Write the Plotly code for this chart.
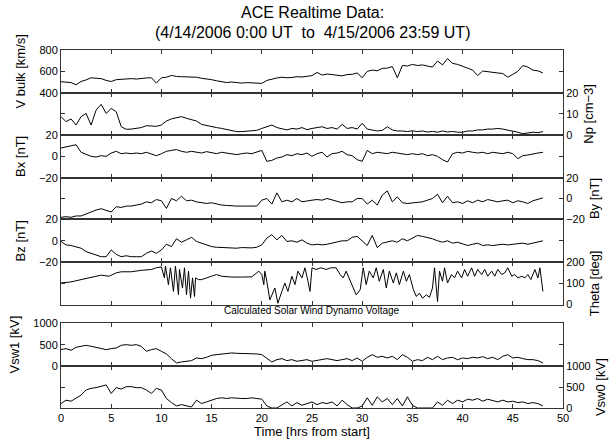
import plotly.graph_objects as go

# ---------------- data ----------------
HOURS = [0, 0.5, 1, 1.5, 2, 2.5, 3, 3.5, 4, 4.5,
         5, 5.5, 6, 6.5, 7, 7.5, 8, 8.5, 9, 9.5,
         10, 10.5, 11, 11.5, 12, 12.5, 13, 13.5, 14, 14.5,
         15, 15.5, 16, 16.5, 17, 17.5, 18, 18.5, 19, 19.5,
         20, 20.5, 21, 21.5, 22, 22.5, 23, 23.5, 24, 24.5,
         25, 25.5, 26, 26.5, 27, 27.5, 28, 28.5, 29, 29.5,
         30, 30.5, 31, 31.5, 32, 32.5, 33, 33.5, 34, 34.5,
         35, 35.5, 36, 36.5, 37, 37.5, 38, 38.5, 39, 39.5,
         40, 40.5, 41, 41.5, 42, 42.5, 43, 43.5, 44, 44.5,
         45, 45.5, 46, 46.5, 47, 47.5, 48]

V_BULK = [503, 498, 495, 475, 505, 520, 540, 535, 532, 515,
          505, 522, 525, 530, 532, 528, 535, 538, 540, 490,
          540, 545, 562, 552, 550, 548, 550, 545, 535, 530,
          522, 512, 505, 495, 500, 492, 490, 495, 492, 488,
          487, 515, 530, 538, 545, 540, 543, 550, 547, 555,
          560, 590, 565, 575, 570, 562, 558, 570, 572, 585,
          540, 600, 612, 605, 628, 630, 645, 540, 655, 650,
          665, 655, 660, 650, 640, 697, 660, 720, 675, 665,
          650, 630, 612, 560, 603, 595, 590, 585, 580, 545,
          572, 600, 655, 640, 612, 605, 585]

NP = [8.7, 6.3, 7.6, 4.7, 8.7, 10.2, 4.7, 11.8, 14.5, 10.2,
      12.6, 11.0, 3.9, 2.7, 2.8, 3.1, 3.5, 4.4, 4.4, 4.1,
      4.7, 6.6, 7.6, 8.2, 8.7, 7.9, 7.1, 6.6, 5.0, 4.4,
      3.9, 3.5, 3.1, 2.7, 2.2, 1.6, 1.6, 1.7, 1.9, 2.2,
      3.1, 3.9, 4.7, 3.5, 2.8, 2.4, 3.1, 2.8, 3.5, 2.5,
      3.1, 3.5, 3.9, 3.1, 3.5, 2.8, 5.0, 3.1, 3.5, 2.8,
      5.5, 2.8, 2.4, 1.9, 2.2, 3.9, 2.4, 1.9, 1.9, 1.6,
      2.0, 1.6, 1.9, 1.4, 1.7, 1.3, 1.9, 1.4, 1.7, 1.3,
      1.3, 1.9, 1.9, 2.4, 2.4, 2.8, 2.8, 3.1, 2.8, 2.4,
      1.9, 1.3, 0.6, 0.8, 1.3, 1.1, 1.6]

BX = [7.8, 8.8, 9.4, 10.9, 3.8, 1.6, 0.0, -0.6, 0.6, 0.0,
      3.1, 4.7, 2.5, 3.1, 2.5, 3.1, 2.5, 3.8, 2.5, 0.6,
      2.5, 4.7, 5.6, 6.3, 4.7, 3.8, 4.7, 3.8, 3.1, 4.4,
      3.8, 2.5, 3.8, 3.1, 2.5, 1.6, 2.5, 3.1, 2.5, 3.8,
      5.6, -4.7, -3.8, -1.6, -0.6, 1.6, 0.6, 2.5, 1.6, 3.1,
      0.0, 2.5, 3.8, -0.6, 2.5, 3.1, 4.7, 1.6, 0.6, -3.1,
      -4.7, 5.6, 2.5, 3.8, 3.1, 2.5, 3.8, 3.1, 2.5, 1.6,
      2.5, 1.6, 2.5, 0.6, 1.6, 0.0, -3.1, -5.3, 2.5, 3.8,
      3.1, 4.7, 3.8, 3.1, 3.8, 2.5, 3.8, 3.1, 2.5, 3.8,
      2.5, -2.2, 0.6, 1.3, 2.5, 3.1, 3.8]

BY = [-18.1, -17.5, -18.1, -16.8, -16.8, -14.9, -12.7, -11.1, -9.8, -11.1,
      -13.0, -7.9, -8.6, -7.3, -7.3, -6.3, -5.4, -3.2, -4.1, -1.0,
      -2.2, -9.5, 0.0, -2.2, 2.2, -2.2, -1.6, -3.2, -4.1, -4.8,
      -4.1, -5.4, -6.3, -6.7, -7.3, -7.3, -7.3, -7.3, -6.7, -7.3,
      -1.6, 0.0, -5.4, 5.4, -3.2, -1.6, -3.2, 0.0, -3.2, -2.2,
      -1.6, -1.0, -1.6, 0.0, -1.6, -3.2, -4.1, -3.2, -3.2, 0.0,
      0.0, -5.4, -1.6, -6.3, 3.2, 7.3, -3.2, 1.6, -4.1, -4.8,
      -4.1, -3.2, -3.2, -1.6, 0.0, 4.1, -4.1, 2.2, -4.1, -3.2,
      -4.8, -2.2, -4.1, -1.6, -3.2, -1.0, -2.2, -3.2, -2.2, -1.6,
      -4.1, -2.2, -3.2, -4.8, -2.2, -1.0, 0.6]

BZ = [-0.6, -3.8, -4.4, -5.4, -6.9, -10.1, -11.7, -13.2, -14.8, -14.8,
      -8.5, -12.6, -14.8, -13.9, -14.8, -14.8, -14.8, -11.7, -9.5, -11.7,
      -8.5, -3.2, -5.4, 1.9, -1.3, 0.9, 3.2, -0.6, -2.2, -3.8,
      -5.4, -6.0, -6.3, -6.6, -6.3, -6.9, -6.3, -6.6, -6.6, -6.0,
      -3.8, 2.5, 5.7, 0.9, 5.0, -0.6, 0.0, -1.3, 0.9, -2.2,
      -3.8, -3.2, -3.8, -3.2, -2.2, -0.6, 0.0, 0.0, 3.2, 4.1,
      0.0, -4.4, 5.0, -6.3, -2.2, -1.3, 0.0, -1.3, 1.9, 0.0,
      2.5, 5.0, 4.1, 3.2, 1.9, 0.0, -1.3, 0.0, -2.2, -1.3,
      -3.2, -4.4, -3.2, -2.2, -4.4, -3.8, -4.4, -3.8, -3.2, -3.8,
      -3.2, -2.5, -2.2, -3.2, -2.2, -1.3, 0.0]

THETA_HOURS = [0, 1, 2, 3, 4, 4.8, 5.5, 6, 7, 8, 9, 9.5,
               10, 10.3, 10.4, 10.7, 10.9, 11.2, 11.4, 11.7, 11.8, 12.1,
               12.3, 12.5, 12.7, 12.9, 13.1, 13.3, 13.4, 13.7, 14, 15,
               15.5, 16, 17, 18, 19, 19.7, 20, 20.2, 20.3, 20.5,
               20.8, 21.3, 21.6, 22, 22.3, 22.6, 23, 23.3, 23.6, 24,
               24.3, 24.6, 24.8, 25, 25.4, 25.9, 26.4, 26.9, 27.4, 27.8,
               28.1, 28.4, 28.8, 29.1, 29.4, 29.8, 30.1, 30.4, 30.7, 31.1,
               31.4, 31.7, 32.1, 32.4, 32.7, 33.1, 33.4, 33.7, 34.1, 34.4,
               34.7, 35.1, 35.4, 35.7, 36.0, 36.4, 36.7, 37.0, 37.2, 37.5,
               37.7, 38.0, 38.2, 38.5, 38.9, 39.2, 39.5, 39.9, 40.2, 40.5,
               40.9, 41.2, 41.5, 41.9, 42.2, 42.5, 42.9, 43.2, 43.5, 43.9,
               44.2, 44.5, 44.9, 45.2, 45.5, 45.9, 46.2, 46.5, 46.8, 47.2,
               47.5, 47.7, 48.0]

THETA = [102, 107, 118, 130, 139, 134, 150, 155, 155, 162, 166, 174,
         178, 126, 182, 94, 174, 62, 182, 46, 166, 78,
         174, 46, 158, 30, 126, 38, 126, 118, 118, 134,
         142, 134, 130, 130, 131, 158, 142, 94, 158, 110,
         22, 78, 6, 62, 102, 62, 134, 94, 158, 126,
         174, 110, 62, 174, 166, 174, 166, 174, 174, 142,
         126, 158, 110, 78, 46, 70, 174, 94, 158, 126,
         174, 110, 166, 78, 158, 102, 150, 94, 158, 110,
         142, 70, 38, 54, 30, 46, 34, 78, 174, 14,
         158, 110, 174, 102, 142, 126, 158, 126, 166, 134,
         174, 134, 166, 142, 166, 134, 158, 134, 166, 142,
         150, 174, 134, 142, 126, 134, 126, 142, 118, 166,
         126, 174, 62]

VSW1 = [385, 408, 369, 438, 462, 485, 462, 438, 423, 385,
        408, 423, 485, 500, 485, 500, 462, 346, 385, 408,
        346, 285, 177, 77, 100, 115, 131, 192, 177, 208,
        254, 269, 285, 300, 308, 300, 300, 285, 292, 285,
        269, 192, 100, 154, 177, 131, 154, 115, 131, 154,
        115, 131, 154, 177, 154, 131, 154, 177, 131, 192,
        115, 208, 269, 208, 231, 192, 231, 154, 269, 208,
        115, 154, 131, 208, 154, 231, 154, 192, 208, 154,
        192, 177, 208, 192, 223, 177, 208, 154, 231, 269,
        192, 208, 177, 154, 154, 131, 77]

VSW0 = [106, 187, 163, 228, 309, 431, 472, 488, 512, 553,
        350, 488, 455, 512, 512, 488, 488, 431, 350, 472,
        431, 228, 130, 49, 81, 49, 24, 187, 106, 146,
        187, 228, 244, 228, 244, 228, 228, 228, 244, 228,
        211, 49, 0, 0, 65, 146, 49, 130, 65, 106,
        146, 81, 130, 106, 146, 49, 187, 81, 0, 0,
        49, 244, 65, 268, 146, 228, 81, 228, 49, 268,
        65, 0, 0, 0, 0, 146, 65, 187, 106, 187,
        146, 211, 187, 228, 163, 211, 187, 146, 187, 146,
        163, 130, 146, 106, 130, 106, 49]

X_TICKS = [0, 5, 10, 15, 20, 25, 30, 35, 40, 45, 50]

TITLE_LINE1 = "ACE Realtime Data:"
TITLE_LINE2 = "(4/14/2006 0:00 UT  to  4/15/2006 23:59 UT)"
SUBTITLE = "Calculated Solar Wind Dynamo Voltage"
X_TITLE = "Time [hrs from start]"

# ---------------- figure ----------------
FONT = "Liberation Sans, Arial, Helvetica, sans-serif"

panels = [
    dict(title="V bulk [km/s]", x=HOURS, y=V_BULK, rng=[400, 800], ticks=[400, 600, 800], side="left", dom=[0.8807, 1.0]),
    dict(title="Np [cm\u22123]", x=HOURS, y=NP, rng=[0, 20], ticks=[0, 10, 20], side="right", dom=[0.7626, 0.8807]),
    dict(title="Bx [nT]", x=HOURS, y=BX, rng=[-20, 20], ticks=[-20, 0, 20], side="left", dom=[0.6433, 0.7626]),
    dict(title="By [nT]", x=HOURS, y=BY, rng=[-20, 20], ticks=[-20, 0, 20], side="right", dom=[0.5271, 0.6433]),
    dict(title="Bz [nT]", x=HOURS, y=BZ, rng=[-20, 20], ticks=[-20, 0, 20], side="left", dom=[0.4070, 0.5271]),
    dict(title="Theta [deg]", x=THETA_HOURS, y=THETA, rng=[0, 200], ticks=[0, 100, 200], side="right", dom=[0.2891, 0.4070]),
    dict(title="Vsw1 [kV]", x=HOURS, y=VSW1, rng=[0, 1000], ticks=[0, 500, 1000], side="left", dom=[0.1165, 0.2374]),
    dict(title="Vsw0 [kV]", x=HOURS, y=VSW0, rng=[0, 1000], ticks=[0, 500, 1000], side="right", dom=[0.0, 0.1165]),
]

fig = go.Figure()
layout = {}
n = len(panels)
for i, p in enumerate(panels, start=1):
    xa = "x" if i == 1 else f"x{i}"
    ya = "y" if i == 1 else f"y{i}"
    fig.add_trace(go.Scatter(x=p["x"], y=p["y"], xaxis=xa, yaxis=ya, mode="lines",
                             line=dict(color="black", width=1), showlegend=False,
                             hoverinfo="skip"))
    xkey = "xaxis" if i == 1 else f"xaxis{i}"
    ykey = "yaxis" if i == 1 else f"yaxis{i}"
    xdict = dict(domain=[0, 1], anchor=ya, range=[0, 50], tickvals=X_TICKS,
                 ticks="inside", ticklen=4, tickcolor="#333", mirror="ticks",
                 showline=True, linecolor="#333", linewidth=1,
                 showgrid=False, zeroline=False, showticklabels=(i == n),
                 automargin=False, tickfont=dict(size=11, color="black"))
    if i != 1:
        xdict["matches"] = "x"
    if i == n:
        xdict["title"] = dict(text=X_TITLE, font=dict(size=13, color="black"), standoff=2)
    layout[xkey] = xdict
    layout[ykey] = dict(domain=p["dom"], anchor=xa, range=p["rng"], tickvals=p["ticks"],
                        side=p["side"], ticks="inside", ticklen=4, tickcolor="#333",
                        mirror="ticks", showline=True, linecolor="#333", linewidth=1,
                        showgrid=False, zeroline=False, automargin=False,
                        tickfont=dict(size=11, color="black"),
                        title=dict(text=p["title"], font=dict(size=13, color="black"),
                                   standoff=10 if p["side"] == "left" else 6))

fig.update_layout(
    width=616, height=440,
    margin=dict(l=61, r=53, t=50, b=32, autoexpand=False),
    paper_bgcolor="white", plot_bgcolor="white",
    font=dict(family=FONT, color="black"),
    annotations=[
        dict(text=TITLE_LINE1, xref="paper", yref="paper", x=0.5, y=1.1034,
             xanchor="center", yanchor="middle", showarrow=False,
             font=dict(size=16, color="black")),
        dict(text=TITLE_LINE2, xref="paper", yref="paper", x=0.5, y=1.0475,
             xanchor="center", yanchor="middle", showarrow=False,
             font=dict(size=16, color="black")),
        dict(text=SUBTITLE, xref="paper", yref="paper", x=0.5, y=0.271,
             xanchor="center", yanchor="middle", showarrow=False,
             font=dict(size=10, color="black")),
    ],
    **layout,
)

fig.write_html("out.html",
               config={"displayModeBar": False, "staticPlot": True},
               post_script="document.body.style.margin='0';document.body.style.padding='0';")
